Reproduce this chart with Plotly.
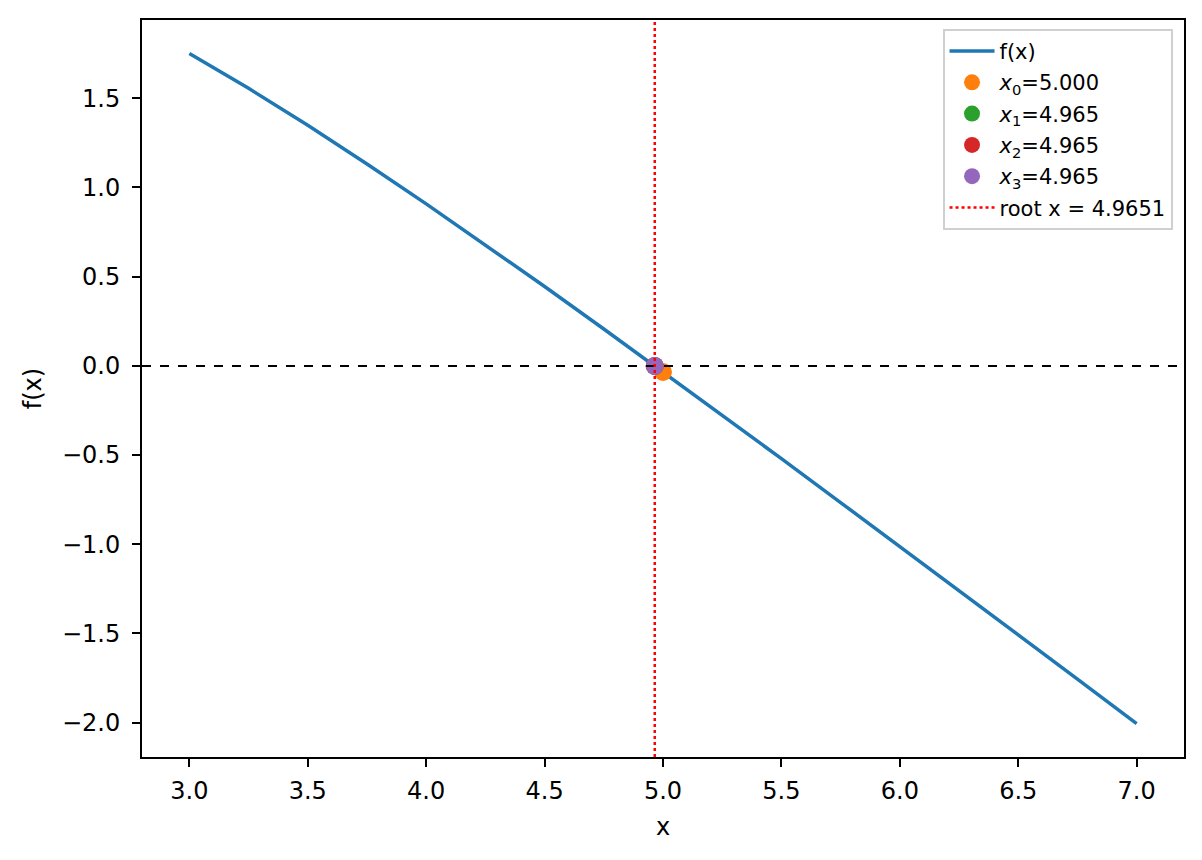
import plotly.graph_objects as go

# curve f(x)
x_vals = [3.0, 3.25, 3.5, 3.75, 4.0, 4.25, 4.5, 4.75, 5.0, 5.25, 5.5, 5.75,
          6.0, 6.25, 6.5, 6.75, 7.0]
f_vals = [1.751, 1.556, 1.349, 1.132, 0.908, 0.679, 0.445, 0.207, -0.034,
          -0.276, -0.520, -0.766, -1.012, -1.260, -1.508, -1.756, -2.005]

# iterates
iter_x = [5.000, 4.965, 4.965, 4.965]
iter_y = [-0.034, 0.0, 0.0, 0.0]
iter_labels = ["5.000", "4.965", "4.965", "4.965"]
iter_colors = ["#ff7f0e", "#2ca02c", "#d62728", "#9467bd"]

root = 4.9651

FONT = "DejaVu Sans"

fig = go.Figure()

fig.add_trace(go.Scatter(x=x_vals, y=f_vals, mode="lines", name="f(x)",
                         legendgroup="f",
                         line=dict(color="#1f77b4", width=3.5)))

for i in range(len(iter_x)):
    fig.add_trace(go.Scatter(
        x=[iter_x[i]], y=[iter_y[i]], mode="markers",
        name="<i>x</i><sub>%d</sub>=%s" % (i, iter_labels[i]),
        legendgroup="it%d" % i,
        marker=dict(color=iter_colors[i], size=18)))

# legend entry for the root line (line itself drawn as a shape)
fig.add_trace(go.Scatter(x=[None], y=[None], mode="lines",
                         name="root x = %.4f" % root, legendgroup="root",
                         line=dict(color="red", width=2.5, dash="dot")))

fig.add_hline(y=0, line=dict(color="black", width=2, dash="dash"))
fig.add_vline(x=root, line=dict(color="red", width=2.5, dash="dot"))

axis_common = dict(
    showline=True, linecolor="black", linewidth=2, mirror=True,
    ticks="outside", ticklen=8, tickwidth=2, tickcolor="black",
    showgrid=False, zeroline=False,
    tickfont=dict(family=FONT, size=24, color="black"),
    title_font=dict(family=FONT, size=24, color="black"),
)

fig.update_xaxes(axis_common, range=[2.8, 7.2], dtick=0.5, tickformat=".1f",
                 ticklabelstandoff=3, title_text="x", title_standoff=14)
fig.update_yaxes(axis_common, range=[-2.1924, 1.9389], dtick=0.5,
                 tickformat=".1f", ticklabelstandoff=7,
                 title_text="f(x)", title_standoff=14)

# page body adds ~8px offset, so margins are shifted to compensate
fig.update_layout(
    width=1202, height=860,
    margin=dict(l=134, r=26, t=10, b=111),
    plot_bgcolor="white", paper_bgcolor="white",
    font=dict(family=FONT, color="black"),
    showlegend=True,
    legend=dict(x=0.989, y=0.988, xanchor="right", yanchor="top",
                traceorder="grouped", tracegroupgap=1, itemwidth=45,
                bgcolor="rgba(255,255,255,0.8)", bordercolor="#d0d0d0",
                borderwidth=2, font=dict(family=FONT, size=21, color="black")),
)

fig.write_html("out.html")
